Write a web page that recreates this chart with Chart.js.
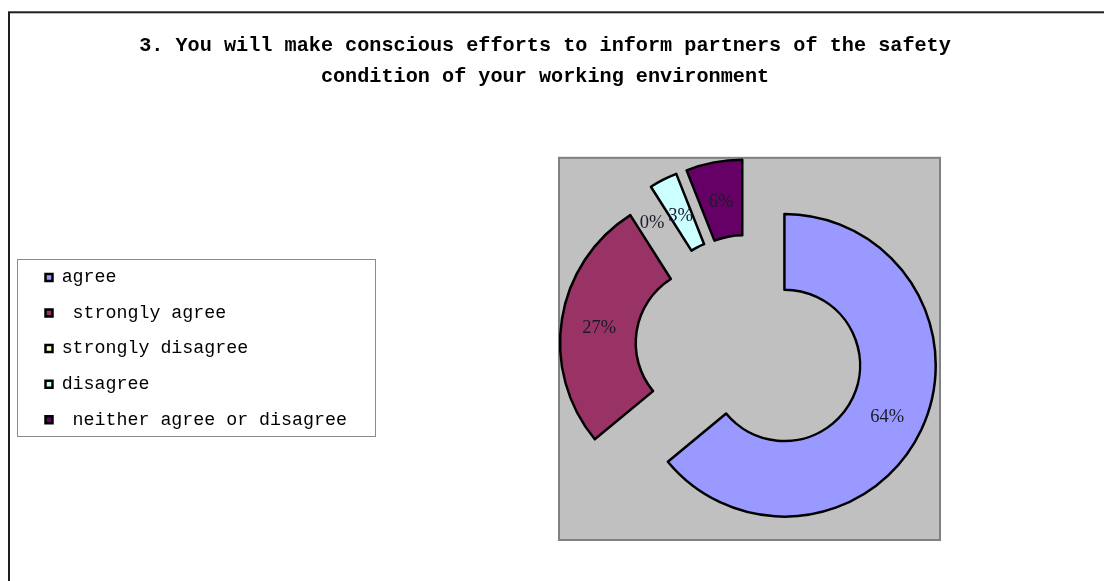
<!DOCTYPE html>
<html><head><meta charset="utf-8">
<script src="https://cdn.jsdelivr.net/npm/chart.js@4/dist/chart.umd.min.js"></script>
<style>html,body{margin:0;padding:0;background:#fff}canvas{display:block}</style>
</head><body>
<canvas id="c" width="1104" height="581"></canvas>
<script>
// ---- data ----
const titleLines = ['3. You will make conscious efforts to inform partners of the safety', 'condition of your working environment'];
const categories = ['agree', ' strongly agree', 'strongly disagree', 'disagree', ' neither agree or disagree'];
const percentages = [64, 27, 0, 3, 6];

// ---- styles ----
const sliceColors = ['#9999FF', '#993366', '#FFFFCC', '#CCFFFF', '#660066'];
const EXPLODE = 38.6;          // explosion distance of every slice (px)
const OUTER_R = 151.3;
const BORDER_W = 2.5;
const LEG = {left: 28.25, top: 251.1, frame: [17.5, 259.5, 358, 177]};
const TITLE_SPAN = [0, 1090];

const decor = {
  id: 'decor',
  afterLayout(chart) {
    const t = chart.titleBlock;
    if (t) { t.left = TITLE_SPAN[0]; t.right = TITLE_SPAN[1]; t.width = TITLE_SPAN[1] - TITLE_SPAN[0]; }
    const lg = chart.legend;
    if (lg) {
      const dx = LEG.left - lg.left, dy = LEG.top - lg.top;
      lg.left += dx; lg.right += dx; lg.top += dy; lg.bottom += dy;
    }
  },
  afterDatasetsUpdate(chart) {
    // explode each slice outward along its mid-angle
    chart.getDatasetMeta(0).data.forEach((arc) => {
      const mid = (arc.startAngle + arc.endAngle) / 2;
      arc.x += Math.cos(mid) * EXPLODE;
      arc.y += Math.sin(mid) * EXPLODE;
    });
  },
  beforeDraw(chart) {
    const c = chart.ctx;
    c.save();
    c.fillStyle = '#fff';
    c.fillRect(0, 0, chart.width, chart.height);
    c.strokeStyle = '#1e1e1e';
    c.lineWidth = 2;
    c.strokeRect(9, 12.3, chart.width + 40, chart.height + 40);
    c.strokeStyle = '#8c8c8c';
    c.lineWidth = 1;
    c.strokeRect(...LEG.frame);
    const a = chart.chartArea;
    c.fillStyle = '#C0C0C0';
    c.fillRect(a.left, a.top, a.width, a.height);
    c.strokeStyle = '#808080';
    c.lineWidth = 2;
    c.strokeRect(a.left, a.top, a.width, a.height);
    c.restore();
  },
  afterDatasetsDraw(chart) {
    const meta = chart.getDatasetMeta(0);
    const c = chart.ctx;
    c.save();
    c.font = '18.5px "Liberation Serif", "Times New Roman", serif';
    c.fillStyle = '#1a1a2a';
    c.textAlign = 'center';
    c.textBaseline = 'middle';
    meta.data.forEach((arc, i) => {
      const mid = (arc.startAngle + arc.endAngle) / 2;
      const r = (arc.innerRadius + arc.outerRadius) / 2;
      const nudge = percentages[i] === 0 ? -16 : 0;
      c.fillText(percentages[i] + '%', arc.x + Math.cos(mid) * r + nudge, arc.y + Math.sin(mid) * r + 3);
    });
    c.restore();
  }
};

new Chart(document.getElementById('c'), {
  type: 'doughnut',
  data: {
    labels: categories,
    datasets: [{
      data: percentages,
      backgroundColor: (ctx) => (ctx.raw === 0 ? 'rgba(0,0,0,0)' : sliceColors[ctx.dataIndex]),
      borderColor: (ctx) => (ctx.raw === 0 ? 'rgba(0,0,0,0)' : '#000'),
      borderWidth: (ctx) => (ctx.raw === 0 ? 0 : BORDER_W),
      borderAlign: 'center',
      offset: 0,
      hoverOffset: 0,
      borderJoinStyle: 'round'
    }]
  },
  options: {
    responsive: false,
    animation: false,
    events: [],
    radius: OUTER_R,
    cutout: '50%',
    layout: {padding: {left: 559, right: 164, top: 0, bottom: 41}},
    plugins: {
      title: {
        display: true,
        text: titleLines,
        color: '#000',
        font: {family: '"Liberation Mono", "DejaVu Sans Mono", monospace', size: 20.2, weight: 'bold', lineHeight: 1.53},
        padding: {top: 30.5, bottom: 65.5}
      },
      legend: {
        display: true,
        position: 'chartArea',
        align: 'start',
        labels: {
          color: '#000',
          font: {family: '"Liberation Mono", "DejaVu Sans Mono", monospace', size: 18.3},
          boxWidth: 7,
          boxHeight: 7,
          padding: 17.25,
          generateLabels: (chart) =>
            Chart.overrides.doughnut.plugins.legend.labels.generateLabels(chart)
              .map((item, i) => Object.assign(item, {
                fillStyle: sliceColors[i], lineWidth: BORDER_W, strokeStyle: '#000', lineJoin: 'miter'
              }))
        }
      },
      tooltip: {enabled: false}
    }
  },
  plugins: [decor]
});
</script>
</body></html>
